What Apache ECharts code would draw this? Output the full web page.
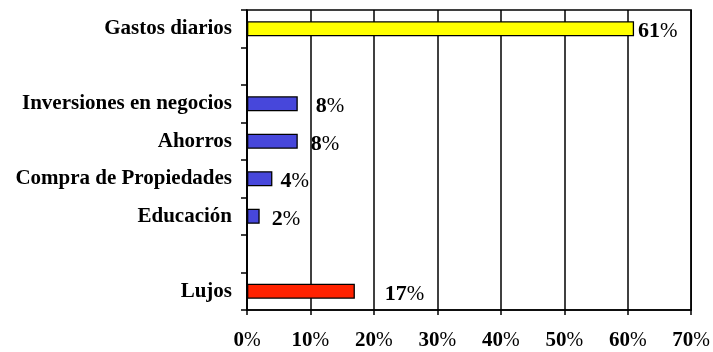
<!DOCTYPE html>
<html>
<head>
<meta charset="utf-8">
<script src="https://cdn.jsdelivr.net/npm/echarts@6/dist/echarts.min.js"></script>
<style>
  html, body { margin: 0; padding: 0; background: #fff; }
  #chart { width: 713px; height: 352px; }
</style>
</head>
<body>
<div id="chart"></div>
<script>
// Distribución del gasto (porcentaje)
const categories = ['Gastos diarios', ' ', 'Inversiones en negocios', 'Ahorros',
                    'Compra de Propiedades', 'Educación', '  ', 'Lujos'];
const values = [61, null, 8, 8, 4, 2, null, 17];
const xTicks = [0, 10, 20, 30, 40, 50, 60, 70];

// Styling kept apart from the data
const barColors = ['#FFFF00', '#4747DB', '#4747DB', '#4747DB', '#4747DB', '#4747DB', '#4747DB', '#FF2200'];
const labelGaps = [4, 0, 18, 13, 8, 12, 0, 30];

const serif = '"Liberation Serif", "Times New Roman", serif';

const pctRich = {
  n: { fontFamily: serif, fontWeight: 'bold', fontSize: 21, color: '#000' },
  p: { fontFamily: serif, fontWeight: 'normal', fontSize: 20, color: '#000' }
};

const chart = echarts.init(document.getElementById('chart'), null, { renderer: 'canvas' });

chart.setOption({
  animation: false,
  backgroundColor: '#ffffff',
  grid: {
    left: 247, right: 21, top: 10, bottom: 42,
    show: true, borderColor: '#000', borderWidth: 1.5
  },
  xAxis: {
    type: 'value',
    min: xTicks[0],
    max: xTicks[xTicks.length - 1],
    interval: 10,
    axisLine: { show: true, lineStyle: { color: '#000', width: 1.5 } },
    axisTick: { show: true, length: 5, lineStyle: { color: '#000', width: 1.5 } },
    splitLine: { show: true, lineStyle: { color: '#000', width: 1.5 } },
    axisLabel: {
      margin: 20,
      formatter: v => '{n|' + v + '}{p|%}',
      rich: pctRich
    }
  },
  yAxis: {
    type: 'category',
    inverse: true,
    data: categories,
    axisLine: { show: true, lineStyle: { color: '#000', width: 1.5 } },
    axisTick: { show: true, length: 6, lineStyle: { color: '#000', width: 1.5 } },
    axisLabel: {
      margin: 15,
      padding: [4, 0, 0, 0],
      fontFamily: serif,
      fontWeight: 'bold',
      fontSize: 21,
      color: '#000'
    }
  },
  series: [{
    type: 'bar',
    barWidth: 15,
    data: values.map((v, i) => ({
      value: v,
      itemStyle: { color: barColors[i], borderColor: '#000', borderWidth: 1.3 },
      label: { offset: [labelGaps[i], 3] }
    })),
    label: {
      show: true,
      position: 'right',
      distance: 0,
      formatter: p => p.value == null ? '' : '{n|' + p.value + '}{p|%}',
      rich: {
        n: { fontFamily: serif, fontWeight: 'bold', fontSize: 22, color: '#000' },
        p: { fontFamily: serif, fontWeight: 'normal', fontSize: 21, color: '#000' }
      }
    }
  }]
});
</script>
</body>
</html>
